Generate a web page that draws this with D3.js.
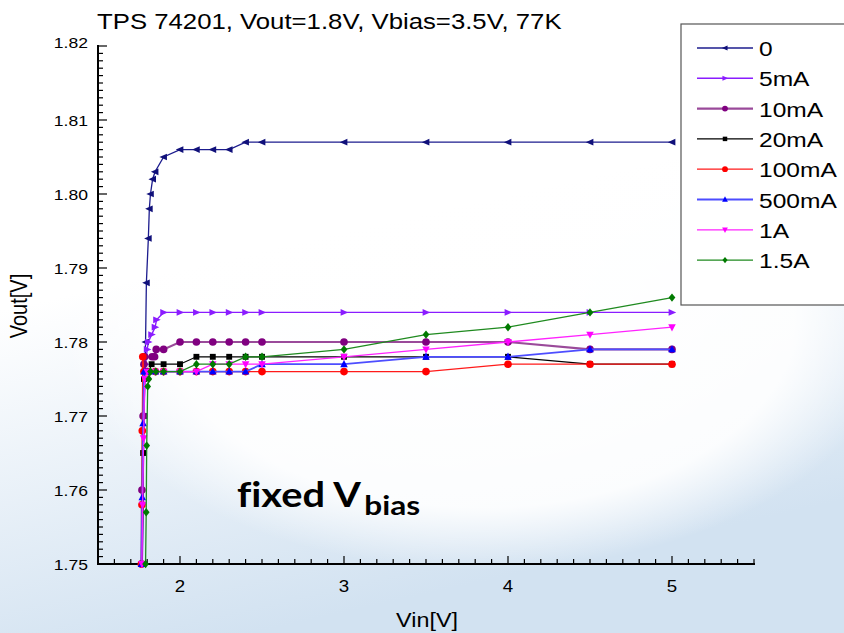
<!DOCTYPE html>
<html><head><meta charset="utf-8">
<script src="https://cdn.jsdelivr.net/npm/d3@7"></script>
<style>html,body{margin:0;padding:0;background:#fff;}svg{display:block;}</style>
</head><body>
<svg id="chart" width="844" height="633"></svg>
<script>
// ---------- data ----------
const seriesNames = ["0","5mA","10mA","20mA","100mA","500mA","1A","1.5A"];
const xTicks = [2,3,4,5];
const yTicks = [1.75,1.76,1.77,1.78,1.79,1.80,1.81,1.82];
const yTickLabels = ["1.75","1.76","1.77","1.78","1.79","1.80","1.81","1.82"];
const title = "TPS 74201, Vout=1.8V, Vbias=3.5V, 77K";

const vin0   = [1.770,1.780,1.790,1.795,1.807,1.813,1.820,1.833,1.848,1.90,2.0,2.1,2.2,2.3,2.4,2.5,3.0,3.5,4.0,4.5,5.0];
const vout0  = [1.750,1.770,1.780,1.788,1.794,1.798,1.800,1.802,1.803,1.805,1.806,1.806,1.806,1.806,1.807,1.807,1.807,1.807,1.807,1.807,1.807];
const vin5   = [1.770,1.780,1.790,1.800,1.807,1.827,1.848,1.857,1.90,2.0,2.1,2.2,2.3,2.4,2.5,3.0,3.5,4.0,4.5,5.0];
const vout5  = [1.750,1.770,1.777,1.779,1.780,1.781,1.782,1.783,1.784,1.784,1.784,1.784,1.784,1.784,1.784,1.784,1.784,1.784,1.784,1.784];
const vin10  = [1.765,1.768,1.775,1.780,1.785,1.830,1.845,1.855,1.90,2.0,2.1,2.2,2.3,2.4,2.5,3.0,3.5,4.0,4.5,5.0];
const vout10 = [1.750,1.760,1.770,1.777,1.778,1.778,1.778,1.779,1.779,1.780,1.780,1.780,1.780,1.780,1.780,1.780,1.780,1.780,1.779,1.779];
const vin20  = [1.770,1.775,1.780,1.790,1.810,1.827,1.90,2.0,2.1,2.2,2.3,2.4,2.5,3.0,3.5,4.0,4.5,5.0];
const vout20 = [1.750,1.765,1.775,1.776,1.776,1.777,1.777,1.777,1.778,1.778,1.778,1.778,1.778,1.778,1.778,1.778,1.777,1.777];
const vin100  = [1.765,1.768,1.770,1.773,1.780,1.80,1.85,1.90,2.0,2.1,2.2,2.3,2.4,2.5,3.0,3.5,4.0,4.5,5.0];
const vout100 = [1.750,1.758,1.768,1.778,1.776,1.776,1.776,1.776,1.776,1.776,1.776,1.776,1.776,1.776,1.776,1.776,1.777,1.777,1.777];
const vin500  = [1.765,1.770,1.775,1.780,1.790,1.80,1.85,1.90,2.0,2.1,2.2,2.3,2.4,2.5,3.0,3.5,4.0,4.5,5.0];
const vout500 = [1.750,1.759,1.769,1.776,1.776,1.776,1.776,1.776,1.776,1.776,1.776,1.776,1.776,1.777,1.777,1.778,1.778,1.779,1.779];
const vin1A   = [1.768,1.772,1.778,1.785,1.80,1.85,1.90,2.0,2.1,2.2,2.3,2.4,2.5,3.0,3.5,4.0,4.5,5.0];
const vout1A  = [1.750,1.758,1.767,1.775,1.776,1.776,1.776,1.776,1.776,1.777,1.777,1.777,1.777,1.778,1.779,1.780,1.781,1.782];
const vin15A  = [1.790,1.794,1.797,1.803,1.810,1.820,1.853,1.90,2.0,2.1,2.2,2.3,2.4,2.5,3.0,3.5,4.0,4.5,5.0];
const vout15A = [1.750,1.757,1.766,1.774,1.775,1.776,1.776,1.776,1.776,1.777,1.777,1.777,1.778,1.778,1.779,1.781,1.782,1.784,1.786];

const seriesX = [vin0,vin5,vin10,vin20,vin100,vin500,vin1A,vin15A];
const seriesY = [vout0,vout5,vout10,vout20,vout100,vout500,vout1A,vout15A];

// ---------- styles ----------
const lineColors   = ["#1c1c8e","#8a1cff","#9a4a9a","#000000","#ff1a1a","#4d4dff","#ff22ff","#1f8a1f"];
const markerColors = ["#10107a","#8a1cff","#800080","#000000","#ff0000","#0000ff","#ff00ff","#007a00"];
const lineWidths   = [1.3,1.4,2.2,1.2,1.3,1.8,1.3,1.3];
const markerShapes = ["triL","triR","circle","square","circle","triU","triD","diamond"];

const svg = d3.select("#chart");
const W = 844, H = 633;
const SX = 1.17; // horizontal text stretch seen in the reference

// ---------- background ----------
const defs = svg.append("defs");
const bg = defs.append("linearGradient").attr("id","bgGrad").attr("x1",0).attr("y1",0).attr("x2",0.3).attr("y2",1);
bg.append("stop").attr("offset","0").attr("stop-color","#ffffff");
bg.append("stop").attr("offset","0.45").attr("stop-color","#ffffff");
bg.append("stop").attr("offset","1").attr("stop-color","#d2e2f1");
svg.append("rect").attr("width",W).attr("height",H).attr("fill","url(#bgGrad)");
const rg = defs.append("radialGradient").attr("id","glow");
rg.append("stop").attr("offset","0").attr("stop-color","#ffffff").attr("stop-opacity",1);
rg.append("stop").attr("offset","0.75").attr("stop-color","#ffffff").attr("stop-opacity",0.9);
rg.append("stop").attr("offset","1").attr("stop-color","#ffffff").attr("stop-opacity",0);
svg.append("ellipse").attr("cx",480).attr("cy",320).attr("rx",420).attr("ry",250).attr("fill","url(#glow)");

// ---------- scales ----------
const x = d3.scaleLinear().domain([1.5,5.5]).range([98,754]);
const y = d3.scaleLinear().domain([1.75,1.82]).range([564,46]);

function stretchText(g, px, py, str, size, anchor, opts={}) {
  const t = g.append("text")
    .attr("transform", `translate(${px},${py}) scale(${SX},1)`)
    .attr("text-anchor", anchor)
    .attr("font-family", opts.family || "'Liberation Sans', Arial, sans-serif")
    .attr("font-size", size)
    .attr("fill", "#000")
    .text(str);
  return t;
}

// ---------- axes ----------
const axisG = svg.append("g");
// x axis line + ticks (minor every 0.1, major every 1)
axisG.append("line").attr("x1",x(1.5)-1).attr("x2",x(5.5)+1).attr("y1",y(1.75)).attr("y2",y(1.75)).attr("stroke","#000").attr("stroke-width",2);
const xMinor = d3.range(15,56).map(i => i/10);
axisG.selectAll(".xt").data(xMinor).enter().append("line")
  .attr("x1",d => x(d)).attr("x2",d => x(d)).attr("y1",y(1.75))
  .attr("y2",d => y(1.75) - (Math.abs(d - Math.round(d)) < 1e-6 ? 8 : 5))
  .attr("stroke","#000").attr("stroke-width",1.2);
xTicks.forEach(v => stretchText(axisG, x(v), 592, String(v), 16, "middle"));

// y axis line + ticks (minor every 0.001, major every 0.01)
axisG.append("line").attr("x1",x(1.5)).attr("x2",x(1.5)).attr("y1",y(1.82)-1).attr("y2",y(1.75)+1).attr("stroke","#000").attr("stroke-width",2);
const yMinor = d3.range(1750,1821).map(i => i/1000);
axisG.selectAll(".yt").data(yMinor).enter().append("line")
  .attr("x1",x(1.5)).attr("x2",(d,i) => x(1.5) + (i % 10 === 0 ? 9 : 5))
  .attr("y1",d => y(d)).attr("y2",d => y(d))
  .attr("stroke","#000").attr("stroke-width",1.2);
yTicks.forEach((v,i) => stretchText(axisG, 88, y(v) + (i === yTicks.length-1 ? 2 : 6), yTickLabels[i], 15, "end"));

// axis titles
stretchText(svg, 427, 627, "Vin[V]", 20, "middle");
svg.append("text").attr("transform","translate(27,306) rotate(-90) scale(1,1.17)")
  .attr("text-anchor","middle").attr("font-family","'Liberation Sans', Arial, sans-serif").attr("font-size",20).text("Vout[V]");

// title
stretchText(svg, 97, 29, title, 22, "start");

// ---------- markers ----------
function markerPath(shape, s) {
  switch (shape) {
    case "triL": return `M${-s},0L${s*0.8},${-s*0.8}L${s*0.8},${s*0.8}Z`;
    case "triR": return `M${s},0L${-s*0.8},${-s*0.8}L${-s*0.8},${s*0.8}Z`;
    case "triU": return `M0,${-s}L${s*0.9},${s*0.7}L${-s*0.9},${s*0.7}Z`;
    case "triD": return `M0,${s}L${s*0.9},${-s*0.7}L${-s*0.9},${-s*0.7}Z`;
    case "square": return `M${-s*0.7},${-s*0.7}h${s*1.4}v${s*1.4}h${-s*1.4}Z`;
    case "diamond": return `M0,${-s}L${s*0.8},0L0,${s}L${-s*0.8},0Z`;
    default: return d3.symbol().type(d3.symbolCircle).size(s*s*2.6)();
  }
}

// ---------- series ----------
const plotG = svg.append("g");
const line = d3.line().x(d => x(d[0])).y(d => y(d[1]));
seriesNames.forEach((name,i) => {
  const pts = seriesX[i].map((v,k) => [v, seriesY[i][k]]);
  plotG.append("path").datum(pts).attr("d",line).attr("fill","none")
    .attr("stroke",lineColors[i]).attr("stroke-width",lineWidths[i]);
  plotG.selectAll(null).data(pts).enter().append("path")
    .attr("transform", d => `translate(${x(d[0])},${y(d[1])})`)
    .attr("d", markerPath(markerShapes[i], 4.2))
    .attr("fill", markerColors[i]);
});

// ---------- annotation ----------
const ann = svg.append("text").attr("transform","translate(237,507) scale(1.17,1)")
  .attr("font-family","Lato, 'Open Sans', sans-serif").attr("font-weight","bold").attr("font-size",34)
  .style("font-variant-ligatures","none").style("font-feature-settings","'liga' 0").attr("fill","#000");
ann.append("tspan").text("fixed V");
ann.append("tspan").attr("font-size",27).attr("dx",3).attr("dy",8).text("bias");

// ---------- legend ----------
const lg = svg.append("g");
lg.append("rect").attr("x",681).attr("y",24).attr("width",200).attr("height",281)
  .attr("fill","#fff").attr("stroke","#555").attr("stroke-width",1.2);
seriesNames.forEach((name,i) => {
  const ly = 48 + i*30.3;
  lg.append("line").attr("x1",697).attr("x2",753).attr("y1",ly).attr("y2",ly)
    .attr("stroke",lineColors[i]).attr("stroke-width",lineWidths[i]);
  lg.append("path").attr("transform",`translate(725,${ly})`).attr("d",markerPath(markerShapes[i],3.2)).attr("fill",markerColors[i]);
  stretchText(lg, 759, ly+8, name, 21, "start");
});
</script>
</body></html>
